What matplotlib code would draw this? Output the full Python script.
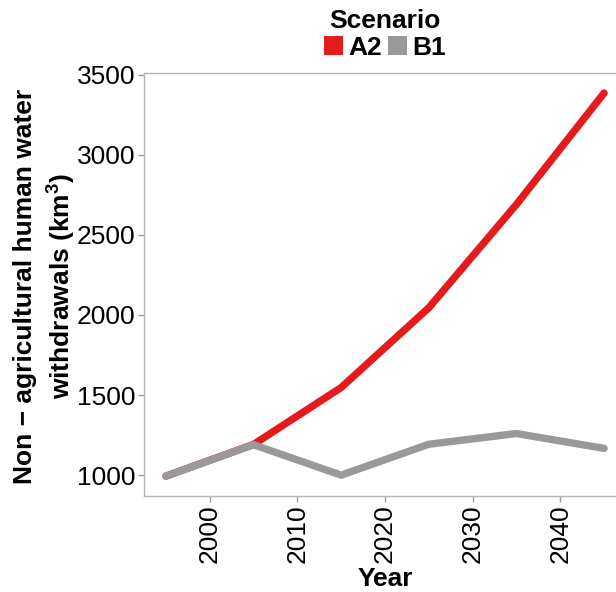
import matplotlib
matplotlib.use("Agg")
import matplotlib.pyplot as plt
from matplotlib.patches import Patch

plt.rcParams['font.family'] = ['Liberation Sans', 'DejaVu Sans']
plt.rcParams['mathtext.fontset'] = 'custom'
plt.rcParams['mathtext.rm'] = 'Liberation Sans'
plt.rcParams['mathtext.bf'] = 'Liberation Sans:bold'

years = [1995, 2005, 2015, 2025, 2035, 2045]
a2_values = [994, 1192, 1547, 2045, 2690, 3385]
b1_values = [994, 1190, 1000, 1193, 1260, 1167]
scenarios = ["A2", "B1"]
colors = {"A2": "#E41A1C", "B1": "#999999"}
x_ticks = [2000, 2010, 2020, 2030, 2040]
y_ticks = [1000, 1500, 2000, 2500, 3000, 3500]

FS = 19

fig = plt.figure(figsize=(6.16, 5.92), dpi=100)
ax = fig.add_axes([144 / 616, 96 / 592, 482 / 616, 423 / 592])

ax.plot(years, a2_values, color=colors["A2"], lw=5.3, solid_capstyle='round',
        solid_joinstyle='round', zorder=2)
ax.plot(years, b1_values, color=colors["B1"], lw=5.3, solid_capstyle='round',
        solid_joinstyle='round', zorder=3)

ax.set_xlim(1992.5, 2047.5)
ax.set_ylim(870, 3510)
ax.set_xticks(x_ticks)
ax.set_yticks(y_ticks)
ax.tick_params(axis='both', length=4, width=1, color='#9A9A9A',
               labelsize=FS, labelcolor='black', pad=2)
ax.tick_params(axis='x', labelrotation=90)
for s in ax.spines.values():
    s.set_color('#B5B5B5')
    s.set_linewidth(1)

ax.set_xlabel("Year", fontsize=FS, fontweight='bold', labelpad=3)
fig.text(25 / 616, 1 - 286 / 592, "Non \u2212 agricultural human water",
         rotation=90, ha='center', va='center', fontsize=FS, fontweight='bold')
fig.text(62 / 616, 1 - 286 / 592, r"withdrawals $\mathbf{(km^3)}$",
         rotation=90, ha='center', va='center', fontsize=FS, fontweight='bold')

handles = [Patch(facecolor=colors[s], edgecolor='none', label=s) for s in scenarios]
leg = fig.legend(handles=handles, loc='upper center', ncol=2,
                 bbox_to_anchor=(385 / 616, 1 - 4 / 592), frameon=False,
                 title="Scenario", handlelength=0.72, handleheight=0.72,
                 handletextpad=0.2, columnspacing=0.2, borderaxespad=0.0,
                 borderpad=0.2,
                 prop={'size': FS, 'weight': 'bold'},
                 title_fontproperties={'size': FS, 'weight': 'bold'})
leg._legend_box.sep = 2

fig.savefig("out.png", dpi=100)
